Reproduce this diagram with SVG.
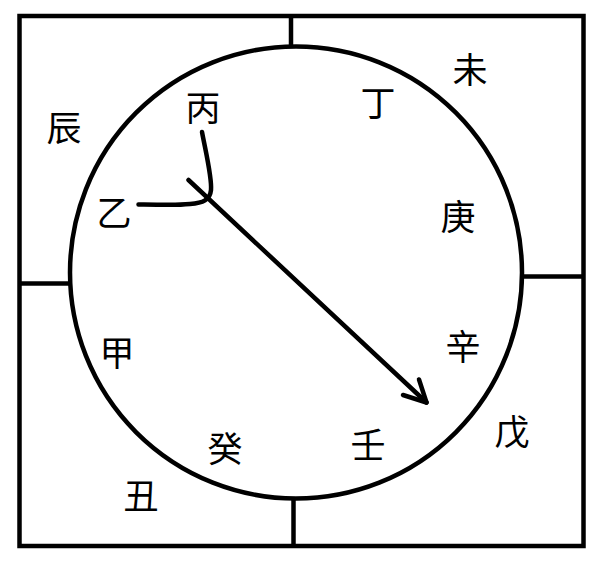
<svg xmlns="http://www.w3.org/2000/svg" width="601" height="567" viewBox="0 0 601 567">
<style>
.ln{fill:none;stroke:#000;stroke-width:4.5;stroke-linecap:round;stroke-linejoin:round}
.fr{fill:none;stroke:#000;stroke-width:4.5}
text{font-family:"Noto Sans CJK SC","Noto Sans CJK JP",sans-serif;font-size:35px;fill:#000;text-anchor:middle;dominant-baseline:central}
</style>
<rect width="601" height="567" fill="#fff"/>
<g id="frame">
<rect class="fr" x="19.5" y="16" width="564" height="530"/>
<line class="fr" x1="291" y1="16" x2="291" y2="47"/>
<line class="fr" x1="293.5" y1="498" x2="293.5" y2="546"/>
<line class="fr" x1="19.5" y1="283.5" x2="71" y2="283.5"/>
<line class="fr" x1="521" y1="276.5" x2="583.5" y2="276.5"/>
</g>
<g id="circle">
<ellipse class="fr" cx="296" cy="272.5" rx="226" ry="226"/>
</g>
<g id="labels">
<text x="64" y="125">辰</text>
<text x="203" y="105">丙</text>
<text x="114" y="210">乙</text>
<text x="378" y="100">丁</text>
<text x="470" y="67">未</text>
<text x="458" y="214">庚</text>
<text x="117" y="350">甲</text>
<text x="463" y="344">辛</text>
<text x="512" y="429">戊</text>
<text x="368" y="442">壬</text>
<text x="225" y="446">癸</text>
<text x="141" y="493">丑</text>
</g>
<g id="connectors">
<path class="ln" d="M202,132 C207,158 212,178 211,190 C210,200 203,203 190,204 C170,206 155,204 138.5,204.5"/>
<line class="ln" x1="188.5" y1="180" x2="426.5" y2="402.5"/>
<path class="ln" d="M403,395 L426.5,402.5 L419,379.5"/>
</g>
</svg>
